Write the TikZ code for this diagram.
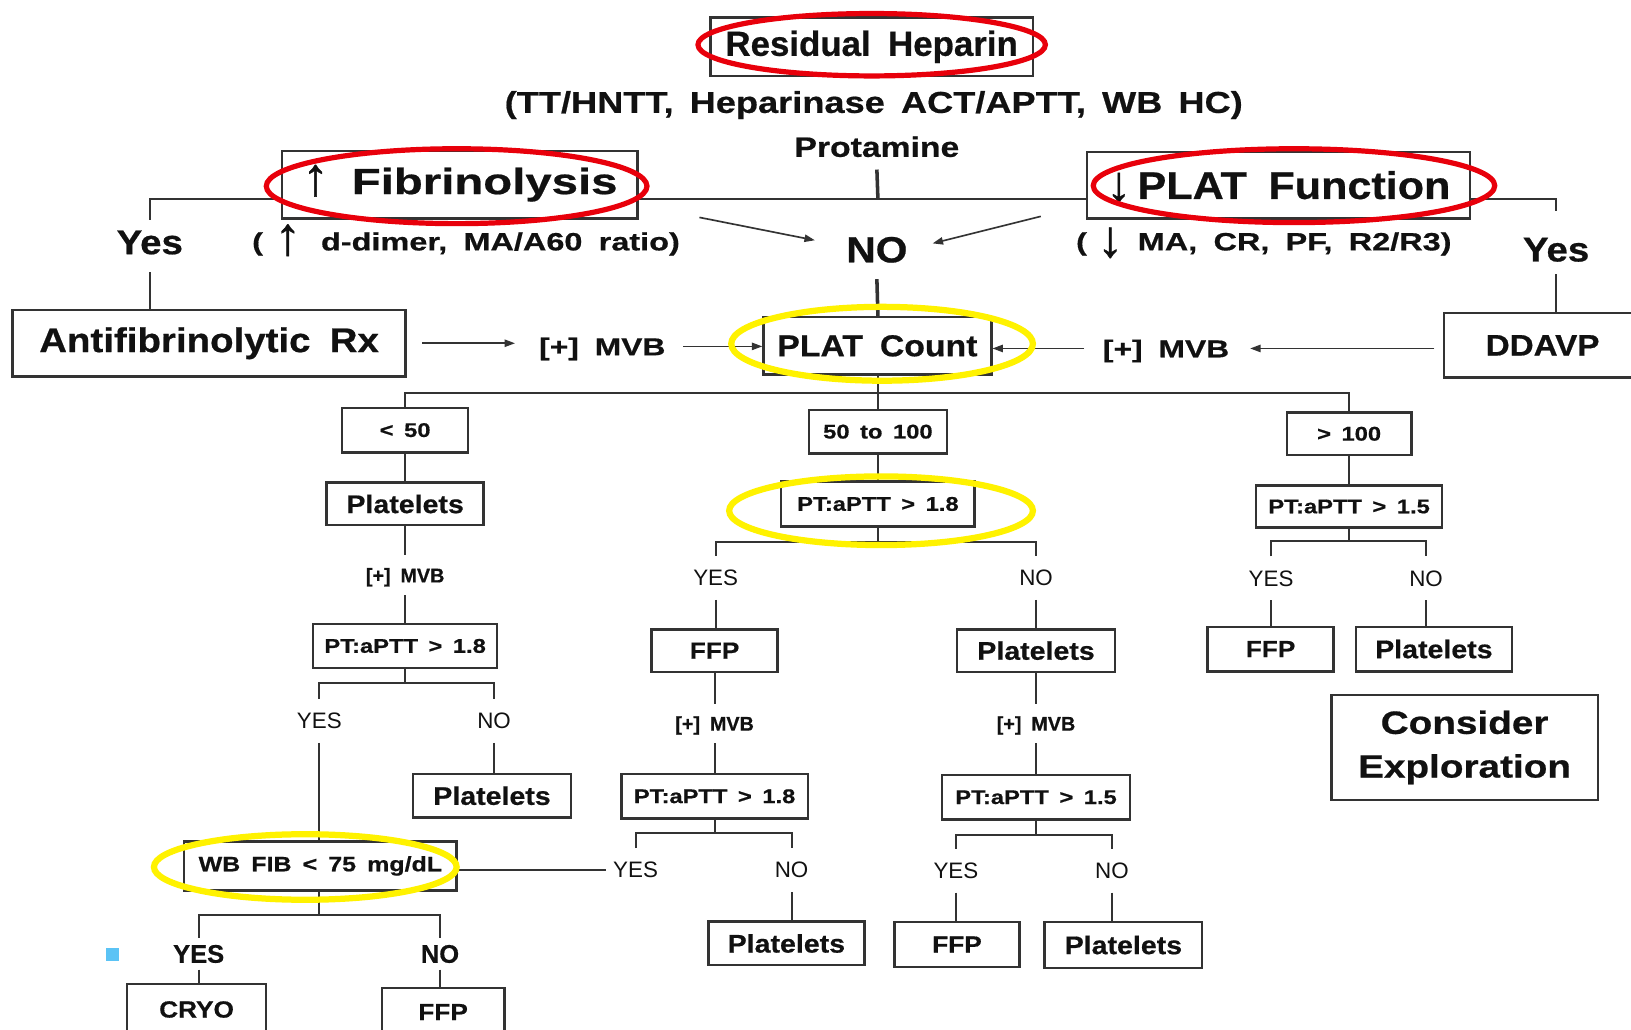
\documentclass[tikz,border=0pt]{standalone}
\usepackage{fontspec}
\usepackage{graphicx}
\usetikzlibrary{arrows.meta,calc}
% Helvetica-like faces at several set widths
\newfontfamily\hvA{Liberation Sans}[FakeStretch=1.00,WordSpace=1.8,BoldFeatures={FakeBold=0.6}]
\newfontfamily\hvB{Liberation Sans}[FakeStretch=1.12,WordSpace=1.8,BoldFeatures={FakeBold=0.6}]
\newfontfamily\hvC{Liberation Sans}[FakeStretch=1.20,WordSpace=1.6,BoldFeatures={FakeBold=0.6}]
\newfontfamily\hvD{Liberation Sans}[FakeStretch=1.30,WordSpace=1.8,BoldFeatures={FakeBold=0.6}]
\newfontfamily\arrowfont{Liberation Sans}[FakeBold=0.8]
\newcommand\fsz[1]{\fontsize{#1}{#1}\selectfont}
% tall arrows set beside the headings (kept out of the line height)
\newcommand\UpArr[2]{\smash{\raisebox{#2}{\resizebox{!}{#1}{\arrowfont\bfseries ↑}}}}
\newcommand\DnArr[2]{\smash{\raisebox{#2}{\resizebox{!}{#1}{\arrowfont\bfseries ↓}}}}
\definecolor{ink}{HTML}{111111}
\definecolor{rule}{HTML}{333333}
\definecolor{alert}{HTML}{E8000B}
\definecolor{hilite}{HTML}{FFF200}
\definecolor{bulletblue}{HTML}{5BC3F5}
\begin{document}
\begin{tikzpicture}[x=1pt,y=-1pt,
  fbox/.style={draw=rule,line width=2.3pt,inner sep=0pt,text=ink},
  wire/.style={draw=rule,line width=1.9pt},
  heavy/.style={draw=rule,line width=3.4pt},
  arr/.style={draw=rule,line width=1.6pt,-{Triangle[length=10pt,width=7pt]}},
  redring/.style={draw=alert,line width=5pt},
  yelring/.style={draw=hilite,line width=6pt},
  word/.style={text=ink,inner sep=0pt,text depth=0pt},
  answord/.style={word,font=\hvA\fsz{21.5},inner ysep=13.5pt},
  mvbword/.style={word,font=\hvA\bfseries\fsz{19},inner ysep=12pt},
  ansbold/.style={word,font=\hvA\bfseries\fsz{24.5},inner ysep=6.5pt},
  rangefont/.style={font=\hvC\bfseries\fsz{19}},
  condfont/.style={font=\hvC\bfseries\fsz{19}},
  actfont/.style={font=\hvB\bfseries\fsz{24.5}},
  actsmall/.style={font=\hvB\bfseries\fsz{22.5}},
]
\fill[white] (0,0) rectangle (1568,990);
\useasboundingbox (0,0) rectangle (1568,990);

% ---------- top: heparin, fibrinolysis, platelet function ----------
\node[fbox,minimum width=310,minimum height=56,font=\hvA\bfseries\fsz{33.5}] (heparin) at (838,45) {Residual Heparin};
\node[word,font=\hvC\bfseries\fsz{29}] (tests) at (840,98) {(TT/HNTT, Heparinase ACT/APTT, WB HC)};
\node[word,font=\hvC\bfseries\fsz{27}] (protamine) at (843,141) {Protamine};

\node[fbox,minimum width=342,minimum height=65,font=\hvD\bfseries\fsz{35}] (fib) at (442,177.5) {\UpArr{29pt}{-1pt}\hspace{22pt}Fibrinolysis};
\node[fbox,minimum width=368,minimum height=64,font=\hvB\bfseries\fsz{37}] (platfn) at (1229,178) {\DnArr{27pt}{-2pt}\hspace{6pt}PLAT Function};

\node[word,font=\hvD\bfseries\fsz{24}] (fibtests) at (448,232) {(\hspace{11pt}\UpArr{29pt}{-4pt}\hspace{19pt}d-dimer, MA/A60 ratio)};
\node[word,font=\hvD\bfseries\fsz{24}] (pftests) at (1215,232) {(\hspace{10pt}\DnArr{28pt}{-6pt}\hspace{14pt}MA, CR, PF, R2/R3)};

\node[word,font=\hvB\bfseries\fsz{33}] (yesL) at (144,233) {Yes};
\node[word,font=\hvB\bfseries\fsz{33}] (yesR) at (1496,240) {Yes};
\node[word,font=\hvB\bfseries\fsz{35}] (no) at (843,240) {NO};

\coordinate (trunk) at (844,191);
\draw[heavy] ([yshift=-12pt]protamine.south) -- (trunk);
\draw[wire] ([yshift=10pt]yesL.north) |- (fib.west |- trunk);
\draw[wire] (fib.east |- trunk) -- (platfn.west |- trunk);
\draw[wire] (platfn.east |- trunk) -| ([yshift=26pt]yesR.north);

\draw[arr] ([xshift=-141pt,yshift=31pt]no.west) -- ([xshift=-30pt,yshift=9pt]no.west);
\draw[arr] ([xshift=128pt,yshift=32pt]no.east) -- ([xshift=24pt,yshift=6pt]no.east);

% ---------- treatment row ----------
\node[fbox,minimum width=378,minimum height=64,font=\hvB\bfseries\fsz{33}] (anti) at (201,330) {Antifibrinolytic Rx};
\node[fbox,minimum width=219,minimum height=55,font=\hvB\bfseries\fsz{29}] (count) at (843.5,332.5) {PLAT Count};
\node[fbox,minimum width=190,minimum height=62,font=\hvB\bfseries\fsz{28.5}] (ddavp) at (1483,332) {DDAVP};
\node[word,font=\hvD\bfseries\fsz{23.5}] (mvbL) at (579,333) {[+] MVB};
\node[word,font=\hvD\bfseries\fsz{23.5}] (mvbR) at (1121,335) {[+] MVB};

\draw[wire] ([yshift=-17pt]yesL.south) -- (anti.north -| yesL);
\draw[wire] ([yshift=-12pt]yesR.south) -- (ddavp.north -| yesR);
\draw[heavy] ([yshift=-16pt]no.south) -- (count.north -| trunk);

\draw[arr,shorten <=15pt,shorten >=23pt] (anti.east) -- (anti.east -| mvbL.west);
\draw[arr,shorten <=17pt] (mvbL.east) -- (mvbL.east -| count.west);
\draw[arr,shorten <=8pt,shorten >=20pt] (ddavp.west |- mvbR.east) -- (mvbR.east);
\draw[arr,shorten <=18pt] (mvbR.west) -- (mvbR.west -| count.east);

% ---------- platelet count ranges ----------
\coordinate (hub) at (844,378);
\node[fbox,minimum width=121,minimum height=43,rangefont] (low) at (389.5,413.5) {< 50};
\node[fbox,minimum width=133,minimum height=42,rangefont] (mid) at (844,415) {50 to 100};
\node[fbox,minimum width=120,minimum height=41,rangefont] (high) at (1297,417) {> 100};
\draw[wire] (count.south -| hub) -- (hub);
\draw[wire] (low.north) |- (hub) -| (high.north);
\draw[wire] (hub) -- (mid.north);

% ---------- count < 50 ----------
\node[fbox,minimum width=151,minimum height=41,actfont] (plt1) at (389.5,484.5) {Platelets};
\node[mvbword] (mvb1) at (389.5,553) {[+] MVB};
\node[fbox,minimum width=177,minimum height=42,condfont] (pt1) at (389.5,621) {PT:aPTT > 1.8};
\coordinate (fork1) at (389.5,657);
\node[answord] (yes1) at (307,693) {YES};
\node[answord] (no1) at (475,693) {NO};
\node[fbox,minimum width=152,minimum height=42,actfont] (pltL) at (473,765) {Platelets};
\node[fbox,minimum width=262,minimum height=47,font=\hvC\bfseries\fsz{20}] (wbfib) at (308,832.5) {WB FIB < 75 mg/dL};
\coordinate (fork2) at (307,880);
\node[ansbold] (yesB) at (191,917) {YES};
\node[ansbold] (noB) at (423,917) {NO};
\node[fbox,minimum width=134,minimum height=49,actsmall] (cryo) at (189,970.5) {CRYO};
\node[fbox,minimum width=118,minimum height=46,actsmall] (ffpL) at (426,973) {FFP};
\node[fill=bulletblue,inner sep=0pt,minimum size=12.5pt] (bullet) at (108.5,918) {};

\draw[wire] (low) -- (plt1);
\draw[wire] (plt1) -- (mvb1);
\draw[wire] (mvb1) -- (pt1);
\draw[wire] (pt1.south) -- (fork1);
\draw[wire] (yes1.north) |- (fork1) -| (no1.north);
\draw[wire] (yes1.south) -- (yes1.south |- wbfib.north);
\draw[wire] (no1.south) -- (no1.south |- pltL.north);
\draw[wire] (wbfib.south -| fork2) -- (fork2);
\draw[wire] (yesB.north) |- (fork2) -| (noB.north);
\draw[wire] (yesB.south) -- (yesB.south |- cryo.north);
\draw[wire] (noB.south) -- (noB.south |- ffpL.north);

% ---------- count 50 to 100 ----------
\node[fbox,minimum width=186,minimum height=43,condfont] (ptM) at (844,484.5) {PT:aPTT > 1.8};
\coordinate (fork3) at (844,521);
\node[answord] (yesM) at (688,555.5) {YES};
\node[answord] (noM) at (996,555.5) {NO};
\node[fbox,minimum width=121,minimum height=41,actsmall] (ffpM) at (687,625.5) {FFP};
\node[mvbword] (mvb2) at (687,695.5) {[+] MVB};
\node[fbox,minimum width=179,minimum height=43,condfont] (ptM2) at (687,765.5) {PT:aPTT > 1.8};
\coordinate (fork4) at (687,801);
\node[answord] (yesM2) at (611,836.5) {YES};
\node[answord] (noM2) at (761,836.5) {NO};
\node[fbox,minimum width=150,minimum height=42,actfont] (pltM) at (756,907) {Platelets};

\node[fbox,minimum width=152,minimum height=41,actfont] (pltR) at (996,625.5) {Platelets};
\node[mvbword] (mvb3) at (996,695.5) {[+] MVB};
\node[fbox,minimum width=181,minimum height=43,condfont] (ptR2) at (996,766.5) {PT:aPTT > 1.5};
\coordinate (fork5) at (996,802.5);
\node[answord] (yesR2) at (919,837) {YES};
\node[answord] (noR2) at (1069,837) {NO};
\node[fbox,minimum width=120,minimum height=43.5,actsmall] (ffpR) at (920,908) {FFP};
\node[fbox,minimum width=151.5,minimum height=44.5,actfont] (pltR2) at (1080,908.5) {Platelets};

\draw[wire] (mid.south) -- (mid.south |- ptM.north);
\draw[wire] (ptM.south) -- (fork3);
\draw[wire] (yesM.north) |- (fork3) -| (noM.north);
\draw[wire] (yesM.south) -- (yesM.south |- ffpM.north);
\draw[wire] (ffpM) -- (mvb2);
\draw[wire] (mvb2) -- (ptM2);
\draw[wire] (ptM2.south) -- (fork4);
\draw[wire] (yesM2.north) |- (fork4) -| (noM2.north);
\draw[wire] (noM2.south) -- (noM2.south |- pltM.north);
\draw[wire] (wbfib.east |- yesM2.west) -- ([xshift=-7pt]yesM2.west);

\draw[wire] (noM.south) -- (noM.south |- pltR.north);
\draw[wire] (pltR) -- (mvb3);
\draw[wire] (mvb3) -- (ptR2);
\draw[wire] (ptR2.south) -- (fork5);
\draw[wire] (yesR2.north) |- (fork5) -| (noR2.north);
\draw[wire] (yesR2.south) -- (yesR2.south |- ffpR.north);
\draw[wire] (noR2.south) -- (noR2.south |- pltR2.north);

% ---------- count > 100 ----------
\node[fbox,minimum width=179,minimum height=40.5,condfont] (ptRR) at (1297,487) {PT:aPTT > 1.5};
\coordinate (fork6) at (1297,520);
\node[answord] (yesRR) at (1222,556) {YES};
\node[answord] (noRR) at (1371,556) {NO};
\node[fbox,minimum width=121,minimum height=43,actsmall] (ffpRR) at (1221.5,624) {FFP};
\node[fbox,minimum width=150,minimum height=43,actfont] (pltRR) at (1378.5,624) {Platelets};
\node[fbox,minimum width=256,minimum height=101,align=center,font=\hvC\bfseries\fontsize{31}{42}\selectfont] (explore) at (1408,718.5) {Consider\\Exploration};

\draw[wire] (high.south) -- (high.south |- ptRR.north);
\draw[wire] (ptRR.south) -- (fork6);
\draw[wire] (yesRR.north) |- (fork6) -| (noRR.north);
\draw[wire] (yesRR.south) -- (yesRR.south |- ffpRR.north);
\draw[wire] (noRR.south) -- (noRR.south |- pltRR.north);

% ---------- highlight rings ----------
\draw[redring] (838,43) ellipse [x radius=167pt, y radius=30pt];
\draw[redring] (439,179) ellipse [x radius=183pt, y radius=36pt];
\draw[redring] (1244,178.5) ellipse [x radius=193pt, y radius=35.5pt];
\draw[yelring] (848,330.5) ellipse [x radius=145pt, y radius=35.5pt];
\draw[yelring] (847,491) ellipse [x radius=146pt, y radius=33pt];
\draw[yelring] (293.5,833.5) ellipse [x radius=145.5pt, y radius=31.5pt];
\end{tikzpicture}
\end{document}
